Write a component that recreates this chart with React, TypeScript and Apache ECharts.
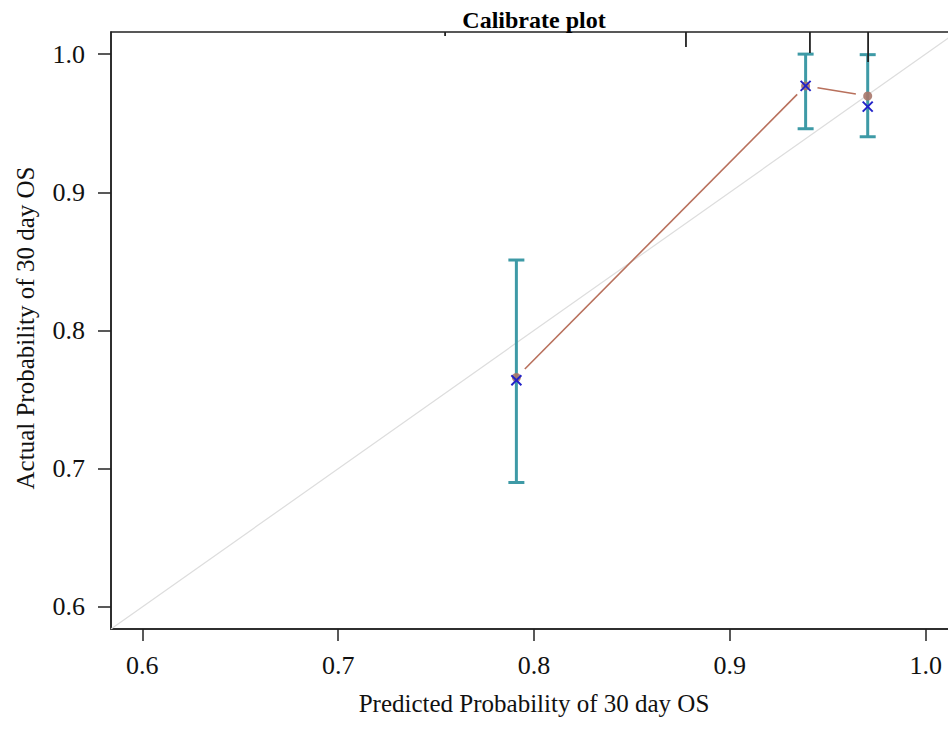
import React, { useEffect, useRef } from "react";
import * as echarts from "echarts";

// Calibration data
const predicted = [0.791, 0.9387, 0.9704];
const apparent = [0.766, 0.977, 0.9697];
const biasCorrected = [0.764, 0.977, 0.962];
const lowerCI = [0.69, 0.946, 0.9402];
const upperCI = [0.851, 1.0, 0.9996];

// Rug of predicted values on the top axis (relative frequency)
const rugValues = [0.7546, 0.8776, 0.9409, 0.9706];
const rugRelFreq = [0.13, 0.5, 0.7, 1.0];

const tickValues = [0.6, 0.7, 0.8, 0.9, 1.0];
const axisMin = 0.584;
const axisMax = 1.016;

const FONT = '"Liberation Serif", "Times New Roman", serif';

export default function App() {
  const ref = useRef<HTMLDivElement>(null);

  useEffect(() => {
    document.body.style.margin = "0";
    if (!ref.current) return;
    const chart = echarts.init(ref.current, null, { renderer: "svg" });

    const axisLineStyle = { color: "#222", width: 1.5 };

    const errorData = predicted.map((p, i) => [p, lowerCI[i], upperCI[i]]);
    const segData = predicted.slice(0, -1).map((p, i) => [
      p,
      apparent[i],
      predicted[i + 1],
      apparent[i + 1],
    ]);
    const xData = predicted.map((p, i) => [p, biasCorrected[i]]);
    const dotData = predicted.map((p, i) => [p, apparent[i]]);
    const rugData = rugValues.map((v, i) => [v, rugRelFreq[i]]);

    const option: any = {
      animation: false,
      backgroundColor: "#fff",
      grid: {
        left: 111,
        top: 32,
        width: 846,
        height: 597,
        outerBoundsMode: "none",
        containLabel: false,
        show: true,
        borderColor: "#222",
        borderWidth: 1.5,
        backgroundColor: "transparent",
      },
      xAxis: {
        type: "value",
        min: axisMin,
        max: axisMax,
        splitLine: { show: false },
        axisLine: { show: true, onZero: false, lineStyle: axisLineStyle },
        axisTick: {
          show: true,
          customValues: tickValues,
          length: 12,
          lineStyle: axisLineStyle,
        },
        axisLabel: {
          customValues: tickValues,
          formatter: (v: number) => v.toFixed(1),
          fontFamily: FONT,
          fontSize: 26,
          color: "#111",
          margin: 23,
        },
      },
      yAxis: {
        type: "value",
        min: axisMin,
        max: axisMax,
        splitLine: { show: false },
        axisLine: { show: true, onZero: false, lineStyle: axisLineStyle },
        axisTick: {
          show: true,
          customValues: tickValues,
          length: 13,
          lineStyle: axisLineStyle,
        },
        axisLabel: {
          customValues: tickValues,
          formatter: (v: number) => v.toFixed(1),
          fontFamily: FONT,
          fontSize: 26,
          color: "#111",
          margin: 26,
        },
      },
      graphic: [
        {
          type: "text",
          x: 534,
          y: 20,
          style: {
            text: "Calibrate plot",
            font: `bold 24px ${FONT}`,
            fill: "#000",
            textAlign: "center",
            textVerticalAlign: "middle",
            align: "center",
            verticalAlign: "middle",
          },
        },
        {
          type: "text",
          x: 534,
          y: 703,
          style: {
            text: "Predicted Probability of 30 day OS",
            font: `25px ${FONT}`,
            fill: "#111",
            textAlign: "center",
            textVerticalAlign: "middle",
            align: "center",
            verticalAlign: "middle",
          },
        },
        {
          type: "text",
          x: 25,
          y: 328,
          rotation: Math.PI / 2,
          style: {
            text: "Actual Probability of 30 day OS",
            font: `25px ${FONT}`,
            fill: "#111",
            textAlign: "center",
            textVerticalAlign: "middle",
            align: "center",
            verticalAlign: "middle",
          },
        },
      ],
      series: [
        {
          type: "line",
          name: "ideal",
          data: [
            [axisMin, axisMin],
            [axisMax, axisMax],
          ],
          showSymbol: false,
          silent: true,
          lineStyle: { color: "#dddddd", width: 1.2 },
          z: 1,
        },
        {
          type: "custom",
          name: "rug",
          data: rugData,
          silent: true,
          z: 3,
          renderItem: (_p: any, api: any) => {
            const pt = api.coord([api.value(0), axisMax]);
            const len = api.value(1) * 30;
            return {
              type: "line",
              shape: { x1: pt[0], y1: pt[1], x2: pt[0], y2: pt[1] + len },
              style: { stroke: "#222", lineWidth: 1.8 },
            };
          },
        },
        {
          type: "custom",
          name: "ci",
          data: errorData,
          silent: true,
          z: 2,
          renderItem: (_p: any, api: any) => {
            const x = api.value(0);
            const lo = api.coord([x, api.value(1)]);
            const hi = api.coord([x, api.value(2)]);
            const st = { stroke: "#3E9AA6", lineWidth: 3 };
            const hw = 8;
            return {
              type: "group",
              children: [
                { type: "line", shape: { x1: lo[0], y1: lo[1], x2: hi[0], y2: hi[1] }, style: st },
                { type: "line", shape: { x1: lo[0] - hw, y1: lo[1], x2: lo[0] + hw, y2: lo[1] }, style: st },
                { type: "line", shape: { x1: hi[0] - hw, y1: hi[1], x2: hi[0] + hw, y2: hi[1] }, style: st },
              ],
            };
          },
        },
        {
          type: "custom",
          name: "apparentLine",
          data: segData,
          silent: true,
          z: 4,
          renderItem: (_p: any, api: any) => {
            const a = api.coord([api.value(0), api.value(1)]);
            const b = api.coord([api.value(2), api.value(3)]);
            const dx = b[0] - a[0];
            const dy = b[1] - a[1];
            const L = Math.sqrt(dx * dx + dy * dy);
            const g = 12;
            const ux = dx / L;
            const uy = dy / L;
            return {
              type: "line",
              shape: {
                x1: a[0] + ux * g,
                y1: a[1] + uy * g,
                x2: b[0] - ux * g,
                y2: b[1] - uy * g,
              },
              style: { stroke: "#B8705C", lineWidth: 1.6 },
            };
          },
        },
        {
          type: "scatter",
          name: "apparent",
          data: dotData,
          symbol: "circle",
          symbolSize: 9,
          silent: true,
          itemStyle: { color: "#A9776A", opacity: 0.9 },
          z: 5,
        },
        {
          type: "custom",
          name: "biasCorrected",
          data: xData,
          silent: true,
          z: 6,
          renderItem: (_p: any, api: any) => {
            const c = api.coord([api.value(0), api.value(1)]);
            const h = 5;
            const st = { stroke: "#2222C8", lineWidth: 2 };
            return {
              type: "group",
              children: [
                { type: "line", shape: { x1: c[0] - h, y1: c[1] - h, x2: c[0] + h, y2: c[1] + h }, style: st },
                { type: "line", shape: { x1: c[0] - h, y1: c[1] + h, x2: c[0] + h, y2: c[1] - h }, style: st },
              ],
            };
          },
        },
      ],
    };

    chart.setOption(option);
    return () => chart.dispose();
  }, []);

  return <div ref={ref} style={{ width: 948, height: 731 }} />;
}
